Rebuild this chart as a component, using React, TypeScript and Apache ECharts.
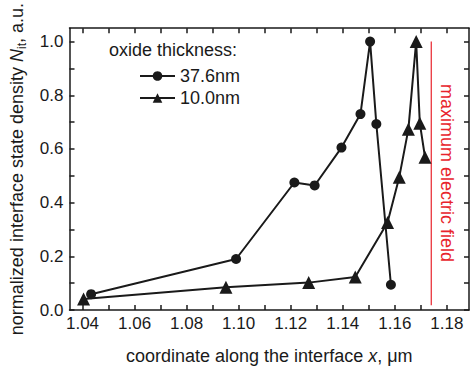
import React, { useEffect, useRef } from 'react';
import * as echarts from 'echarts';

const seriesNames = ['37.6nm', '10.0nm'];
const thick376: [number, number][] = [
  [1.0433, 0.059], [1.099, 0.19], [1.1214, 0.475], [1.1292, 0.464], [1.1395, 0.605],
  [1.1468, 0.73], [1.1505, 1.0], [1.1529, 0.693], [1.1585, 0.094],
];
const thin100: [number, number][] = [
  [1.0404, 0.041], [1.0951, 0.085], [1.1269, 0.102], [1.1448, 0.123], [1.1572, 0.326],
  [1.1617, 0.495], [1.1652, 0.673], [1.1682, 1.0], [1.1696, 0.696], [1.1716, 0.569],
];
const maxFieldLine: [number, number][] = [[1.174, 0.018], [1.174, 1.0]];
const xLabels = [1.04, 1.06, 1.08, 1.1, 1.12, 1.14, 1.16, 1.18];
const xTicks = [1.04, 1.05, 1.06, 1.07, 1.08, 1.09, 1.1, 1.11, 1.12, 1.13, 1.14, 1.15, 1.16, 1.17, 1.18];
const yLabels = [0, 0.2, 0.4, 0.6, 0.8, 1.0];
const yTicks = [0, 0.1, 0.2, 0.3, 0.4, 0.5, 0.6, 0.7, 0.8, 0.9, 1.0];

const FONT = '"Liberation Sans", Arial, sans-serif';
const INK = '#1a1a1a';
const RED = '#e8242c';

export default function App() {
  const ref = useRef<HTMLDivElement>(null);
  useEffect(() => {
    const chart = echarts.init(ref.current!, null, { renderer: 'svg' });
    const axisLine = { show: true, onZero: false, lineStyle: { color: INK, width: 1.5 } };
    const xTick = { show: true, inside: true, length: 5, customValues: xTicks, lineStyle: { color: INK, width: 1.5 } };
    const yTick = { show: true, inside: true, length: 5, customValues: yTicks, lineStyle: { color: INK, width: 1.5 } };
    chart.setOption({
      animation: false,
      textStyle: { fontFamily: FONT },
      title: {
        text: 'oxide thickness:',
        left: 109,
        top: 41,
        padding: 0,
        textStyle: { fontSize: 18, fontWeight: 'normal', color: INK, fontFamily: FONT },
      },
      legend: {
        data: seriesNames,
        orient: 'vertical',
        left: 139,
        top: 67,
        padding: 0,
        itemWidth: 35,
        itemHeight: 12,
        itemGap: 4,
        textStyle: { fontSize: 18, color: INK, fontFamily: FONT, lineHeight: 18 },
      },
      grid: { left: 64, right: 1, top: 11, bottom: 61, containLabel: false },
      xAxis: [
        {
          type: 'value', position: 'bottom', min: 1.035, max: 1.1885,
          axisLine, axisTick: xTick, splitLine: { show: false },
          axisLabel: {
            customValues: xLabels, fontSize: 17, color: INK, margin: 5, fontFamily: FONT,
            formatter: (v: number) => v.toFixed(2),
          },
          name: 'coordinate along the interface {i|x}, μm',
          nameLocation: 'middle',
          nameGap: 37,
          nameTextStyle: {
            fontSize: 18, color: INK, fontFamily: FONT,
            rich: { i: { fontSize: 18, fontStyle: 'italic', color: INK, fontFamily: FONT } },
          },
        },
        {
          type: 'value', position: 'top', min: 1.035, max: 1.1885,
          axisLine, axisTick: xTick, splitLine: { show: false }, axisLabel: { show: false },
        },
      ],
      yAxis: [
        {
          type: 'value', position: 'left', min: 0, max: 1.05,
          axisLine, axisTick: yTick, splitLine: { show: false },
          axisLabel: {
            customValues: yLabels, fontSize: 17, color: INK, margin: 6, fontFamily: FONT,
            formatter: (v: number) => v.toFixed(1),
          },
          name: 'normalized interface state density {i|N}{s|it}, a.u.',
          nameLocation: 'middle',
          nameGap: 42,
          nameTextStyle: {
            fontSize: 18, color: INK, fontFamily: FONT,
            rich: {
              i: { fontSize: 18, fontStyle: 'italic', color: INK, fontFamily: FONT },
              s: { fontSize: 12, color: INK, fontFamily: FONT, padding: [9, 0, 0, 0] },
            },
          },
        },
        {
          type: 'value', position: 'right', min: 0, max: 1.05,
          axisLine, axisTick: yTick, splitLine: { show: false }, axisLabel: { show: false },
        },
      ],
      series: [
        {
          name: seriesNames[0], type: 'line', data: thick376,
          symbol: 'circle', symbolSize: 10, showAllSymbol: true,
          lineStyle: { color: INK, width: 2 }, itemStyle: { color: INK },
        },
        {
          name: seriesNames[1], type: 'line', data: thin100,
          symbol: 'triangle', symbolSize: 13, showAllSymbol: true,
          lineStyle: { color: INK, width: 2 }, itemStyle: { color: INK },
        },
        {
          name: 'field', type: 'line', data: maxFieldLine, symbol: 'none', silent: true,
          lineStyle: { color: RED, width: 1.2 },
        },
      ],
      graphic: [
        {
          type: 'text', x: 447, y: 173, rotation: -Math.PI / 2,
          style: {
            text: 'maximum electric field', fontSize: 18, fontFamily: FONT, fill: RED,
            align: 'center', verticalAlign: 'middle',
          },
        },
      ],
    });
    return () => chart.dispose();
  }, []);
  return (
    <div
      ref={ref}
      style={{ position: 'absolute', left: 0, top: 0, width: 470, height: 371, background: '#fff' }}
    />
  );
}
